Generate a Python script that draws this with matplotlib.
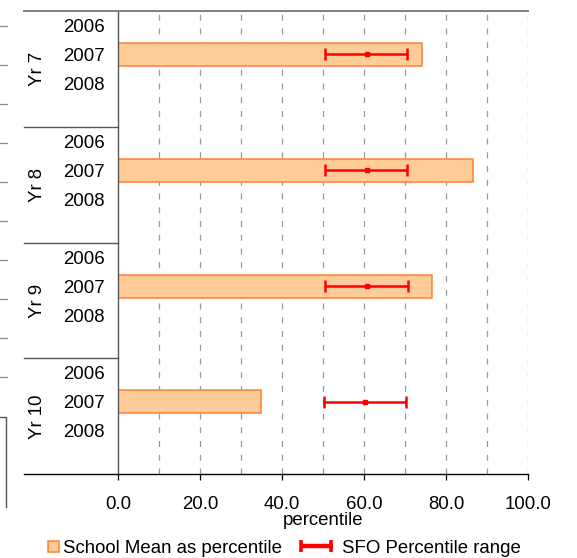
import matplotlib
matplotlib.use("Agg")
import matplotlib.pyplot as plt
import matplotlib.transforms as mtransforms
from matplotlib.lines import Line2D
from matplotlib.patches import Patch, Rectangle
from matplotlib.legend_handler import HandlerPatch, HandlerBase

plt.rcParams['font.family'] = ['Liberation Sans', 'DejaVu Sans']
plt.rcParams['font.size'] = 13.4

# ---------------- data ----------------
groups = ['Yr 7', 'Yr 8', 'Yr 9', 'Yr 10']
years = ['2006', '2007', '2008']
bar_year = '2007'
school_mean = [74.1, 86.6, 76.6, 34.7]      # School Mean as percentile (2007)
sfo_low = [50.4, 50.4, 50.4, 50.2]          # SFO Percentile range - low
sfo_mid = [60.6, 60.6, 60.7, 60.2]          # SFO Percentile range - middle
sfo_high = [70.5, 70.5, 70.6, 70.2]         # SFO Percentile range - high
x_ticks = [0, 20, 40, 60, 80, 100]
x_grid = [10, 20, 30, 40, 50, 60, 70, 80, 90, 100]
x_label = 'percentile'
legend_labels = ['School Mean as percentile', 'SFO Percentile range']

# ---------------- layout ----------------
W, H = 577, 558
PX = 0.72  # points per pixel at 100 dpi
fig = plt.figure(figsize=(W / 100, H / 100), dpi=100)
ax_l, ax_r, ax_t, ax_b = 118.3, 528.3, 11, 474.3
ax = fig.add_axes([ax_l / W, 1 - ax_b / H, (ax_r - ax_l) / W, (ax_b - ax_t) / H])

slots = 4  # 3 years + blank per group
n_rows = slots * len(groups)
ax.set_xlim(0, 100)
ax.set_ylim(n_rows, 0)

ytick_pos, ytick_lab = [], []
for g in range(len(groups)):
    for i, yr in enumerate(years):
        ytick_pos.append(g * slots + i + 0.5)
        ytick_lab.append(yr)
bar_y = [g * slots + years.index(bar_year) + 0.5 for g in range(len(groups))]

# gridlines
for xv in x_grid:
    ax.axvline(xv, color='#999999', lw=0.9, dashes=(4.8, 6.2), zorder=1)

# bars
ax.barh(bar_y, school_mean, height=0.79, color='#FFCC99', edgecolor='#FF8033',
        linewidth=1.1, zorder=2)

# SFO range error bars
xerr = [[m - lo for m, lo in zip(sfo_mid, sfo_low)],
        [hi - m for m, hi in zip(sfo_mid, sfo_high)]]
eb = ax.errorbar(sfo_mid, bar_y, xerr=xerr, fmt='none', ecolor='#FF0000',
                 elinewidth=1.8, capsize=4, capthick=1.8, zorder=3)
ax.plot(sfo_mid, bar_y, 's', color='#FF0000', markersize=3, zorder=4)

# axes styling
for s in ['top', 'right', 'bottom']:
    ax.spines[s].set_visible(False)
ax.spines['left'].set_color('#555555')
ax.spines['left'].set_linewidth(1.0)
ax.set_yticks(ytick_pos)
ax.set_yticklabels(ytick_lab)
ax.tick_params(axis='y', length=0, pad=10)
ax.set_xticks(x_ticks)
ax.set_xticklabels([f'{v:.1f}' for v in x_ticks])
ax.tick_params(axis='x', direction='out', length=4.3, width=0.9, color='black', pad=11)
ax.set_xlabel(x_label, labelpad=-0.5)

trans = mtransforms.blended_transform_factory(ax.transAxes, ax.transData)
left_ext = (24 - ax_l) / (ax_r - ax_l)
ax.plot([left_ext, 1], [0, 0], transform=trans, color='#808080', lw=1.4, clip_on=False, zorder=5)
ax.plot([left_ext, 1], [n_rows, n_rows], transform=trans, color='black', lw=1.0, clip_on=False, zorder=5)
for g in range(1, len(groups)):
    ax.plot([left_ext, 0], [g * slots, g * slots], transform=trans, color='#555555',
            lw=1.0, clip_on=False, zorder=5)
lab_x = (38 - ax_l) / (ax_r - ax_l)
for g, name in enumerate(groups):
    ax.text(lab_x, g * slots + slots / 2, name, transform=trans, rotation=90,
            ha='center', va='center')

# remnants of neighbouring chart at the left edge (cropped)
stray_tick_y = [26 + 39 * k for k in range(10)]
for yy in stray_tick_y:
    fig.add_artist(Line2D([0, 7 / W], [1 - yy / H, 1 - yy / H], color='#888888', lw=0.9))
fig.add_artist(Line2D([0, 6 / W, 6 / W], [1 - 417 / H, 1 - 417 / H, 1 - 507 / H],
                      color='#555555', lw=1.0))

# legend
def square_patch(legend, orig_handle, xdescent, ydescent, width, height, fontsize):
    s = 11 * PX
    return Rectangle((width - s - xdescent, -ydescent + (height - s) / 2), s, s)


class HandlerSFO(HandlerBase):
    def create_artists(self, legend, orig_handle, xdescent, ydescent, width, height,
                       fontsize, trans):
        y = height / 2 - ydescent
        x0 = -xdescent
        x1 = x0 + 33 * PX
        cap = 6 * PX
        lw = 3.2
        arts = [Line2D([x0, x1], [y, y], color='#FF0000', lw=lw, solid_capstyle='butt'),
                Line2D([x0 + 1.2, x0 + 1.2], [y - cap, y + cap], color='#FF0000', lw=2.6,
                       solid_capstyle='butt'),
                Line2D([x1 - 1.2, x1 - 1.2], [y - cap, y + cap], color='#FF0000', lw=2.6,
                       solid_capstyle='butt')]
        for a in arts:
            a.set_transform(trans)
        return arts


fs = plt.rcParams['font.size']
em_px = fs / PX
patch_handle = Patch(facecolor='#FFCC99', edgecolor='#FF8033', linewidth=1.1)
leg = fig.legend([patch_handle, eb], legend_labels, loc='center',
                 bbox_to_anchor=(0.469, 1 - 548 / H), ncol=2, frameon=False,
                 handlelength=38 / em_px, handletextpad=4 / em_px, columnspacing=18 / em_px,
                 borderpad=0, borderaxespad=0,
                 handler_map={Patch: HandlerPatch(patch_func=square_patch),
                              type(eb): HandlerSFO()})

fig.savefig('out.png', dpi=100)
